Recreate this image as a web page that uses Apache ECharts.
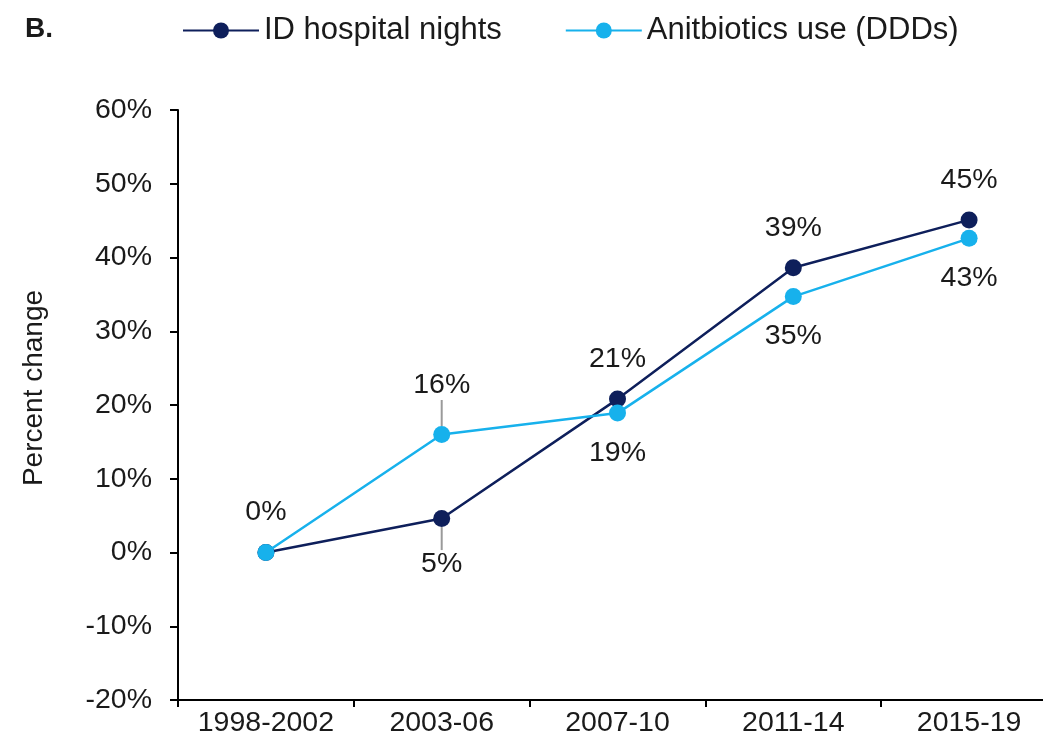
<!DOCTYPE html>
<html>
<head>
<meta charset="utf-8">
<script src="https://cdn.jsdelivr.net/npm/echarts@6/dist/echarts.min.js"></script>
<style>
  html, body { margin: 0; padding: 0; background: #fff; }
  #chart { width: 1043px; height: 744px; }
</style>
</head>
<body>
<div id="chart"></div>
<script>
  // 数据
  const categories = ['1998-2002', '2003-06', '2007-10', '2011-14', '2015-19']
  const hospitalNights = [0, 4.6, 20.8, 38.6, 45.1]
  const antibioticsUse = [0, 16.0, 18.9, 34.7, 42.6]
  const yTicks = { min: -20, max: 60, interval: 10 }

  const navy = '#0e1f5b'
  const sky = '#17b1ec'
  const textColor = '#1a1a1a'
  const font = 'Liberation Sans, Arial, sans-serif'

  // 标签位置：上/下
  const navyPos = ['top', 'bottom', 'top', 'top', 'top']
  const skyPos = [null, 'top', 'bottom', 'bottom', 'bottom']

  function withLabels(values, pos) {
    return values.map((v, i) => {
      const item = { value: v }
      if (pos[i] === null) {
        item.label = { show: false }
      } else {
        item.label = { position: pos[i] }
      }
      if (i === 1) {
        item.labelLine = { show: true, lineStyle: { color: '#9a9a9a', width: 2 } }
      }
      return item
    })
  }

  const chart = echarts.init(document.getElementById('chart'))

  const labelBase = {
    show: true,
    distance: 17,
    color: textColor,
    fontSize: 28.5,
    fontFamily: font,
    formatter: (p) => Math.round(p.value) + '%'
  }

  chart.setOption({
    animation: false,
    title: {
      text: 'B.',
      left: 20,
      top: 10,
      textStyle: { fontSize: 28, fontWeight: 'bold', color: textColor, fontFamily: font }
    },
    legend: {
      left: 177,
      top: 10,
      itemWidth: 76,
      itemHeight: 20,
      itemGap: 63,
      textStyle: { fontSize: 31, color: textColor, fontFamily: font },
      data: ['ID hospital nights', 'Anitbiotics use (DDDs)']
    },
    // 右边超出画布一点，和原图一样被裁掉
    grid: { left: 178, right: -14, top: 110, bottom: 44, outerBoundsMode: 'none' },
    xAxis: {
      type: 'category',
      data: categories,
      boundaryGap: true,
      axisLine: { onZero: false, lineStyle: { color: '#000', width: 2 } },
      axisTick: { show: true, length: 7, lineStyle: { color: '#000', width: 2 } },
      axisLabel: { interval: 0, color: textColor, fontSize: 28.5, fontFamily: font, margin: 9 }
    },
    yAxis: {
      type: 'value',
      min: yTicks.min,
      max: yTicks.max,
      interval: yTicks.interval,
      name: 'Percent change',
      nameLocation: 'middle',
      nameRotate: 90,
      nameGap: 130,
      nameTextStyle: { fontSize: 28, color: textColor, fontFamily: font, padding: [0, 0, 0, 34] },
      axisLine: { show: true, lineStyle: { color: '#000', width: 2 } },
      axisTick: { show: true, length: 8, lineStyle: { color: '#000', width: 2 } },
      axisLabel: { color: textColor, fontSize: 28.5, fontFamily: font, margin: 26, formatter: '{value}%' },
      splitLine: { show: false }
    },
    series: [
      {
        name: 'ID hospital nights',
        type: 'line',
        data: withLabels(hospitalNights, navyPos),
        symbol: 'circle',
        symbolSize: 17,
        color: navy,
        lineStyle: { color: navy, width: 2.5 },
        label: labelBase,
        labelLayout: (p) => (p.dataIndex === 1 ? { dy: 6 } : {}),
        z: 2
      },
      {
        name: 'Anitbiotics use (DDDs)',
        type: 'line',
        data: withLabels(antibioticsUse, skyPos),
        symbol: 'circle',
        symbolSize: 17,
        color: sky,
        lineStyle: { color: sky, width: 2.5 },
        label: labelBase,
        labelLayout: (p) => (p.dataIndex === 1 ? { dy: -9 } : {}),
        z: 3
      }
    ]
  })
</script>
</body>
</html>
